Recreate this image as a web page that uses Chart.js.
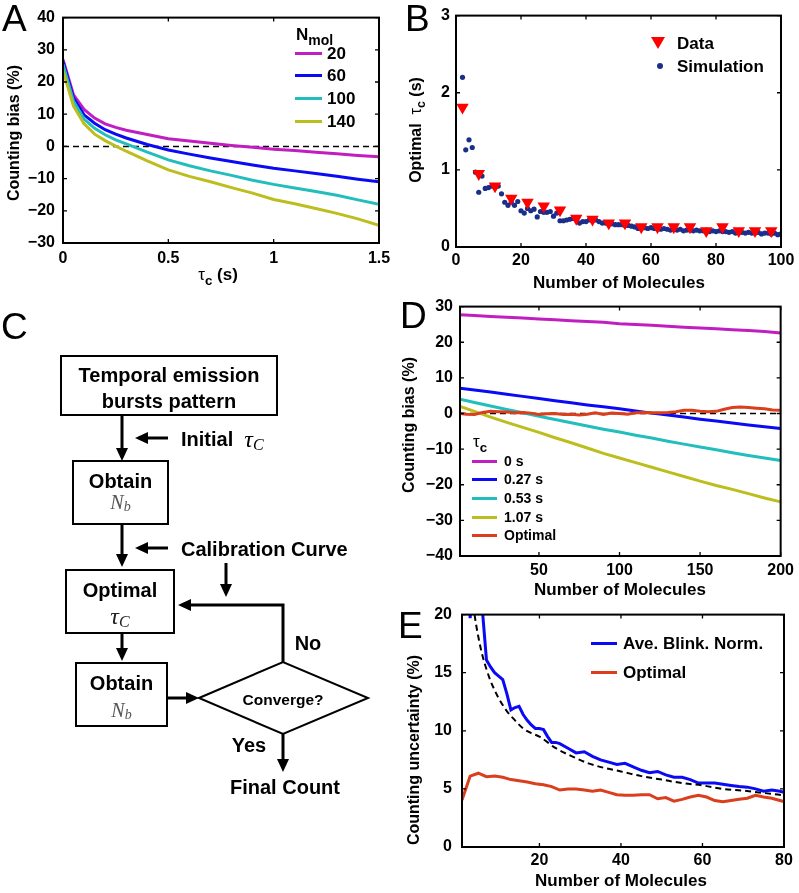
<!DOCTYPE html>
<html><head><meta charset="utf-8">
<script src="https://cdn.jsdelivr.net/npm/chart.js@4.4.0/dist/chart.umd.min.js"></script>
<style>
body{margin:0;background:#fff;width:799px;height:893px;position:relative;overflow:hidden;font-family:"Liberation Sans",Arial,sans-serif;color:#000;}
canvas{position:absolute;}
.t{position:absolute;font-weight:bold;white-space:nowrap;line-height:1;}
.letter{position:absolute;font-size:37px;line-height:1;font-weight:normal;}
.yt{transform:translate(-50%,-50%) rotate(-90deg);}
.xt{transform:translate(-50%,-50%);}
.lt{transform:translateY(-50%);}
.sub{font-size:0.78em;position:relative;top:0.35em;}
.greek{font-weight:normal;}
.ln{position:absolute;height:3px;}
</style></head><body>

<!-- ================= DATA ================= -->
<script>
// Panel A
const tauA = [0,0.05,0.1,0.15,0.2,0.25,0.3,0.4,0.5,0.6,0.7,0.8,0.9,1.0,1.1,1.2,1.3,1.4,1.5];
const biasA_20  = [27,16,11.5,8.8,7.0,5.9,5.0,3.7,2.4,1.7,1.0,0.3,-0.3,-0.9,-1.3,-1.8,-2.3,-2.8,-3.2];
const biasA_60  = [26.3,15,9.8,7.2,5.2,3.8,2.6,0.6,-1.1,-2.4,-3.6,-4.7,-5.8,-6.8,-7.6,-8.4,-9.3,-10.2,-11.0];
const biasA_100 = [25.5,14,8.5,5.6,3.6,2.0,0.8,-1.8,-4.2,-6.0,-7.6,-9.0,-10.5,-11.8,-12.9,-14.0,-15.2,-16.6,-18.0];
const biasA_140 = [23.5,12.5,7,3.8,1.8,0.1,-1.5,-4.5,-7.3,-9.3,-11.0,-12.8,-14.5,-16.5,-17.8,-19.3,-20.8,-22.5,-24.5];
const nmolLabels = ['20','60','100','140'];
const ticksAx = [0,0.5,1,1.5];
const ticksAy = [-30,-20,-10,0,10,20,30,40];
const zeroA = [0,0];

// Panel B
const dataN   = [2,7,12,17,22,27,32,37,42,47,52,57,62,67,72,77,82,87,92,97];
const dataTau = [1.81,0.95,0.79,0.63,0.58,0.53,0.48,0.37,0.36,0.31,0.31,0.26,0.26,0.26,0.26,0.21,0.26,0.21,0.21,0.21];
const simN = [2,3,4,5,6,7,8,9,10,11,12,13,14,15,16,17,18,19,20,21,22,23,24,25,26,27,28,29,30,31,32,33,34,35,36,37,38,39,40,41,42,43,44,45,46,47,48,49,50,51,52,53,54,55,56,57,58,59,60,61,62,63,64,65,66,67,68,69,70,71,72,73,74,75,76,77,78,79,80,81,82,83,84,85,86,87,88,89,90,91,92,93,94,95,96,97,98,99,100];
const simTau = [2.2,1.26,1.39,1.29,0.97,0.71,0.92,0.76,0.77,0.79,0.78,0.79,0.69,0.58,0.54,0.58,0.54,0.59,0.47,0.44,0.50,0.47,0.49,0.39,0.46,0.45,0.45,0.46,0.40,0.44,0.34,0.34,0.35,0.36,0.37,0.37,0.31,0.33,0.33,0.35,0.35,0.35,0.33,0.31,0.31,0.31,0.30,0.29,0.29,0.29,0.28,0.28,0.27,0.26,0.24,0.26,0.25,0.24,0.25,0.24,0.25,0.23,0.24,0.23,0.22,0.23,0.22,0.23,0.21,0.22,0.22,0.21,0.22,0.21,0.21,0.22,0.20,0.21,0.20,0.21,0.20,0.20,0.19,0.20,0.18,0.19,0.19,0.18,0.19,0.18,0.18,0.19,0.17,0.18,0.18,0.17,0.18,0.16,0.17];
const ticksBx = [0,20,40,60,80,100];
const ticksBy = [0,1,2,3];
const legendB = ['Data','Simulation'];

// Panel D
const nMolD   = [1,10,20,30,40,50,60,70,80,90,100,110,120,130,140,150,160,170,180,190,200];
const biasD_0    = [27.7,27.5,27.2,27.0,26.8,26.5,26.3,26.0,25.8,25.6,25.2,25.0,24.8,24.5,24.2,24.0,23.8,23.5,23.3,23.0,22.6];
const biasD_027  = [7.1,6.6,6.0,5.4,4.8,4.2,3.6,3.0,2.4,1.9,1.3,0.7,0.1,-0.4,-1.0,-1.6,-2.1,-2.7,-3.2,-3.7,-4.2];
const biasD_053  = [4.0,3.1,2.1,1.1,0.2,-0.8,-1.7,-2.6,-3.5,-4.4,-5.2,-6.1,-6.9,-7.8,-8.6,-9.4,-10.2,-11.0,-11.8,-12.5,-13.2];
const biasD_107  = [2.0,0.6,-1.0,-2.5,-3.9,-5.3,-6.8,-8.2,-9.7,-11.2,-12.5,-13.8,-15.1,-16.4,-17.7,-19.0,-20.2,-21.3,-22.5,-23.7,-24.8];
const nMolDopt = [1,5,10,15,20,25,30,35,40,45,50,55,60,65,70,75,80,85,90,95,100,105,110,115,120,125,130,135,140,145,150,155,160,165,170,175,180,185,190,195,200];
const biasD_opt  = [0,-0.2,-0.3,0.3,0.6,0.5,0.4,0.2,0.3,0.1,-0.3,-0.1,0.0,-0.3,-0.2,-0.4,-0.2,0.2,-0.3,0.1,0.0,-0.2,0.2,0.3,0.2,0.2,0.3,0.5,0.9,0.9,0.6,0.5,0.6,1.2,1.7,1.8,1.7,1.5,1.3,1.0,0.9];
const tauLabelsD = ['0 s','0.27 s','0.53 s','1.07 s','Optimal'];
const ticksDx = [50,100,150,200];
const ticksDy = [-40,-30,-20,-10,0,10,20,30];
const zeroD = [0,0];

// Panel E
const nMolEblue = [1,2,3,4,5,6,7,8,9,10,11,12,13,14,15,16,17,18,19,20,21,22,23,24,25,27,29,31,33,35,37,39,41,43,45,47,49,51,53,55,57,59,61,63,65,67,69,71,73,75,77,79,80];
const uncBlink  = [34,25,19.7,24,23,20.4,16.1,15.5,15.0,14.7,14.4,13.2,11.8,12.0,12.1,11.4,10.9,10.5,10.2,10.2,10.1,9.5,9.0,9.0,8.9,8.5,8.1,8.2,7.8,7.5,7.3,7.1,7.2,6.9,6.6,6.4,6.5,6.2,6.0,6.0,5.8,5.5,5.5,5.5,5.4,5.3,5.2,5.15,5.0,4.8,4.9,4.8,4.7];
const nMolEopt = [1,3,5,7,9,11,13,15,17,19,21,23,25,27,29,31,33,35,37,39,41,43,45,47,49,51,53,55,57,59,61,63,65,67,69,71,73,75,77,79,80];
const uncOpt   = [4.05,6.1,6.35,6.05,6.1,6.0,5.8,5.7,5.6,5.45,5.35,5.2,4.9,5.0,5.0,4.9,4.8,4.9,4.7,4.5,4.45,4.45,4.5,4.5,4.15,4.25,3.95,4.1,4.3,4.45,4.3,4.0,3.9,4.0,4.1,4.2,4.45,4.3,4.2,4.0,3.9];
const nMolEfit = [3,4,5,6,7,8,9,10,12,14,16,18,20,24,28,32,36,40,45,50,55,60,65,70,75,80];
const uncFit   = [23.4,20.2,18.1,16.5,15.3,14.3,13.5,12.8,11.7,10.9,10.2,9.8,9.5,8.5,7.8,7.2,6.8,6.5,6.1,5.8,5.5,5.3,5.0,4.85,4.65,4.45];
const legendE = ['Ave. Blink. Norm.','Optimal'];
const ticksEx = [20,40,60,80];
const ticksEy = [0,5,10,15,20];
</script>

<canvas id="cA" width="400" height="275" style="left:0;top:0"></canvas>
<canvas id="cB" width="399" height="275" style="left:400px;top:0"></canvas>
<canvas id="cD" width="399" height="300" style="left:400px;top:290px"></canvas>
<canvas id="cE" width="399" height="298" style="left:400px;top:595px"></canvas>

<!-- panel letters -->
<div class="letter" style="left:2px;top:0">A</div>
<div class="letter" style="left:405px;top:0">B</div>
<div class="letter" style="left:1px;top:308px">C</div>
<div class="letter" style="left:400px;top:297px">D</div>
<div class="letter" style="left:398px;top:607px">E</div>

<!-- axis titles -->
<div class="t yt" style="left:14px;top:133px;font-size:16px">Counting bias (%)</div>
<div class="t xt" style="left:218px;top:274px;font-size:17px"><span class="greek">τ</span><span class="sub">c</span> (s)</div>
<div class="t yt" style="left:416px;top:130px;font-size:16px">Optimal&nbsp; <span class="greek">τ</span><span class="sub">c</span> (s)</div>
<div class="t xt" style="left:619px;top:282px;font-size:17px">Number of Molecules</div>
<div class="t yt" style="left:409px;top:425px;font-size:16px">Counting bias (%)</div>
<div class="t xt" style="left:620px;top:589px;font-size:17px">Number of Molecules</div>
<div class="t yt" style="left:414px;top:750px;font-size:16px">Counting uncertainty (%)</div>
<div class="t xt" style="left:621px;top:880px;font-size:17px">Number of Molecules</div>

<!-- legend containers -->
<div id="legA"></div><div id="legB"></div><div id="legD"></div><div id="legE"></div>

<!-- flowchart C -->
<svg width="400" height="893" style="position:absolute;left:0;top:0" xmlns="http://www.w3.org/2000/svg">
 <g fill="none" stroke="#000" stroke-width="2">
  <rect x="61" y="356" width="216" height="59"/>
  <rect x="73" y="461" width="95" height="63"/>
  <rect x="66" y="570" width="108" height="63"/>
  <rect x="76" y="663" width="91" height="63"/>
  <polygon points="199,698 283,662 368,698 283,734"/>
 </g>
 <g stroke="#000" stroke-width="3" fill="none">
  <line x1="122" y1="415" x2="122" y2="450"/>
  <line x1="168" y1="438" x2="146" y2="438"/>
  <line x1="122" y1="524" x2="122" y2="556"/>
  <line x1="168" y1="548" x2="146" y2="548"/>
  <line x1="226" y1="563" x2="226" y2="586"/>
  <polyline points="283,662 283,605 189,605"/>
  <line x1="122" y1="633" x2="122" y2="650"/>
  <line x1="167" y1="698" x2="188" y2="698"/>
  <line x1="283" y1="734" x2="283" y2="761"/>
 </g>
 <g fill="#000">
  <polygon points="116,448 128,448 122,461"/>
  <polygon points="135,438 148,432 148,444"/>
  <polygon points="116,554 128,554 122,567"/>
  <polygon points="135,548 148,542 148,554"/>
  <polygon points="220,584 232,584 226,597"/>
  <polygon points="178,605 191,599 191,611"/>
  <polygon points="116,648 128,648 122,661"/>
  <polygon points="199,698 186,692 186,704"/>
  <polygon points="277,759 289,759 283,772"/>
 </g>
 <g font-family="Liberation Sans, Arial, sans-serif" font-weight="bold" text-anchor="middle" dominant-baseline="central" fill="#000">
  <text x="169" y="375" font-size="20">Temporal emission</text>
  <text x="169" y="401" font-size="20">bursts pattern</text>
  <text x="120.5" y="481" font-size="20">Obtain</text>
  <text x="120" y="590" font-size="20">Optimal</text>
  <text x="121.5" y="683" font-size="20">Obtain</text>
  <text x="283" y="699" font-size="15.5">Converge?</text>
  <text x="308" y="643" font-size="20">No</text>
  <text x="249" y="745" font-size="20">Yes</text>
  <text x="285" y="787" font-size="20">Final Count</text>
  <text x="181" y="439" font-size="20" text-anchor="start">Initial</text>
  <text x="181" y="549" font-size="20" text-anchor="start">Calibration Curve</text>
 </g>
 <g font-family="Liberation Serif, DejaVu Serif, serif" font-style="italic" text-anchor="middle" dominant-baseline="central">
  <text x="254" y="439" font-size="24" fill="#000">τ<tspan font-size="16" dy="5">C</tspan></text>
  <text x="120" y="616" font-size="24" fill="#222">τ<tspan font-size="16" dy="5">C</tspan></text>
  <text x="120.5" y="502" font-size="20" fill="#555">N<tspan font-size="14" dy="4">b</tspan></text>
  <text x="121.5" y="710" font-size="20" fill="#555">N<tspan font-size="14" dy="4">b</tspan></text>
 </g>
</svg>

<script>
const C_MAG='#C01EC0', C_BLUE='#0A0AF5', C_CYAN='#22BDBD', C_OLIVE='#BDBD1E', C_RED='#DA3E1C', C_NAVY='#1B2E8A', C_TRI='#FF0000';
const FONT = {family:'Liberation Sans, Arial, sans-serif', weight:'bold', size:16};
const fmt = v => String(v).replace('-', '\u2212');
const pts = (xs, ys) => xs.map((x,i)=>({x, y:ys[i]}));

const boxPlugin = {
  id:'matlabBox',
  afterDraw(chart){
    const {ctx, chartArea:{left,top,right,bottom}, scales:{x,y}} = chart;
    ctx.save();
    ctx.strokeStyle='#000'; ctx.lineWidth=1.3;
    const tl=4;
    ctx.beginPath();
    x.ticks.forEach((t,i)=>{const p=x.getPixelForTick(i); ctx.moveTo(p,bottom); ctx.lineTo(p,bottom-tl); ctx.moveTo(p,top); ctx.lineTo(p,top+tl);});
    y.ticks.forEach((t,i)=>{const p=y.getPixelForTick(i); ctx.moveTo(left,p); ctx.lineTo(left+tl,p); ctx.moveTo(right,p); ctx.lineTo(right-tl,p);});
    ctx.stroke();
    ctx.lineWidth=2;
    ctx.strokeRect(left,top,right-left,bottom-top);
    ctx.restore();
  }
};

function scaleCfg(min,max,ticks,horizontal,size,pad){
  return {
    type:'linear', min, max,
    grid:{display:false, drawTicks:false}, border:{display:false},
    ticks:{color:'#000', font:FONT, padding:pad, callback:v=>fmt(v), autoSkip:false, maxRotation:0},
    afterBuildTicks:s=>{ s.ticks = ticks.map(v=>({value:v})); },
    afterFit:s=>{ if(horizontal) s.height=size; else s.width=size; }
  };
}

function makeChart(id, datasets, xs, ys, lay){
  new Chart(document.getElementById(id), {
    type:'line',
    data:{datasets},
    options:{
      responsive:false, animation:false, devicePixelRatio:1, events:[],
      layout:{padding:{top:lay.top, right:lay.right, left:0, bottom:0}},
      plugins:{legend:{display:false}, tooltip:{enabled:false}},
      scales:{ x: scaleCfg(xs.min, xs.max, xs.ticks, true, lay.xh, xs.pad),
               y: scaleCfg(ys.min, ys.max, ys.ticks, false, lay.yw, ys.pad) }
    },
    plugins:[boxPlugin]
  });
}
const lineDs = (data,color,extra={}) => Object.assign({data, borderColor:color, backgroundColor:color, borderWidth:3, pointRadius:0, fill:false, tension:0, clip:0}, extra);
const dashDs = (data,extra={}) => Object.assign({data, borderColor:'#000', borderWidth:1.5, borderDash:[6,4], pointRadius:0, fill:false, clip:0}, extra);

// ---- A ----
const colorsA = [C_MAG, C_BLUE, C_CYAN, C_OLIVE];
const seriesA = [biasA_20, biasA_60, biasA_100, biasA_140];
makeChart('cA', [
  ...seriesA.map((s,i)=>lineDs(pts(tauA,s), colorsA[i], {order: 4-i})),
  dashDs(pts([tauA[0], tauA[tauA.length-1]], zeroA), {order:10})
], {min:0,max:1.5,ticks:ticksAx,pad:6}, {min:-30,max:40,ticks:ticksAy,pad:8},
 {top:15, right:21, xh:32, yw:63});

// ---- B ----
makeChart('cB', [
  {type:'scatter', data:pts(dataN,dataTau), pointStyle:'triangle', rotation:180, pointRadius:7.2, backgroundColor:C_TRI, borderColor:C_TRI, borderWidth:0, showLine:false, order:1},
  {type:'scatter', data:pts(simN,simTau), pointStyle:'circle', pointRadius:2.6, backgroundColor:C_NAVY, borderColor:C_NAVY, borderWidth:0, showLine:false, order:2}
], {min:0,max:100,ticks:ticksBx,pad:4}, {min:0,max:3,ticks:ticksBy,pad:6},
 {top:15, right:18, xh:28, yw:56});

// ---- D ----
const seriesD = [biasD_0, biasD_027, biasD_053, biasD_107];
const colorsD = [C_MAG, C_BLUE, C_CYAN, C_OLIVE, C_RED];
makeChart('cD', [
  lineDs(pts(nMolDopt, biasD_opt), C_RED, {order:0}),
  ...seriesD.map((s,i)=>lineDs(pts(nMolD,s), colorsD[i], {order: 5-i})),
  dashDs(pts([nMolD[0], nMolD[nMolD.length-1]], zeroD), {order:10})
], {min:1,max:200,ticks:ticksDx,pad:5}, {min:-40,max:30,ticks:ticksDy,pad:7},
 {top:16, right:18, xh:34, yw:60});

// ---- E ----
makeChart('cE', [
  dashDs(pts(nMolEfit, uncFit), {order:0, cubicInterpolationMode:'monotone', borderWidth:2}),
  lineDs(pts(nMolEblue, uncBlink), C_BLUE, {order:1}),
  lineDs(pts(nMolEopt, uncOpt), C_RED, {order:2})
], {min:1,max:80,ticks:ticksEx,pad:4}, {min:0,max:20,ticks:ticksEy,pad:10},
 {top:17, right:15, xh:46, yw:62});

// ---- legends (HTML text) ----
function legendLine(parent, x, y, w, color, label, textX, size){
  const l=document.createElement('div'); l.className='ln';
  l.style.cssText=`left:${x}px;top:${y-1.5}px;width:${w}px;background:${color}`;
  parent.appendChild(l);
  const t=document.createElement('div'); t.className='t lt';
  t.style.cssText=`left:${textX}px;top:${y}px;font-size:${size}px`;
  t.textContent=label; parent.appendChild(t);
}
const legA=document.getElementById('legA');
legA.innerHTML='<div class="t lt" style="left:296px;top:34px;font-size:17px">N<span class="sub" style="font-size:14px">mol</span></div>';
const yA=[53,75,98,121];
nmolLabels.forEach((lab,i)=>legendLine(legA,295,yA[i],27,colorsA[i],lab,327,17));

const legD=document.getElementById('legD');
legD.innerHTML='<div class="t lt" style="left:473px;top:441px;font-size:17px"><span class="greek">τ</span><span class="sub">c</span></div>';
const yD=[461,479,498,517,535];
tauLabelsD.forEach((lab,i)=>legendLine(legD,472,yD[i],25,colorsD[i],lab,504,14));

const legE=document.getElementById('legE');
legendLine(legE,591,643,26,C_BLUE,legendE[0],623,17);
legendLine(legE,591,672,26,C_RED,legendE[1],623,17);

const legB=document.getElementById('legB');
legB.innerHTML=`<svg style="position:absolute;left:651px;top:37px" width="14" height="13"><polygon points="0,0 14,0 7,12" fill="${C_TRI}"/></svg>
<div style="position:absolute;left:657px;top:63px;width:6px;height:6px;border-radius:50%;background:${C_NAVY}"></div>
<div class="t lt" style="left:677px;top:43px;font-size:17px">${legendB[0]}</div>
<div class="t lt" style="left:677px;top:66px;font-size:17px">${legendB[1]}</div>`;
</script>
</body></html>
